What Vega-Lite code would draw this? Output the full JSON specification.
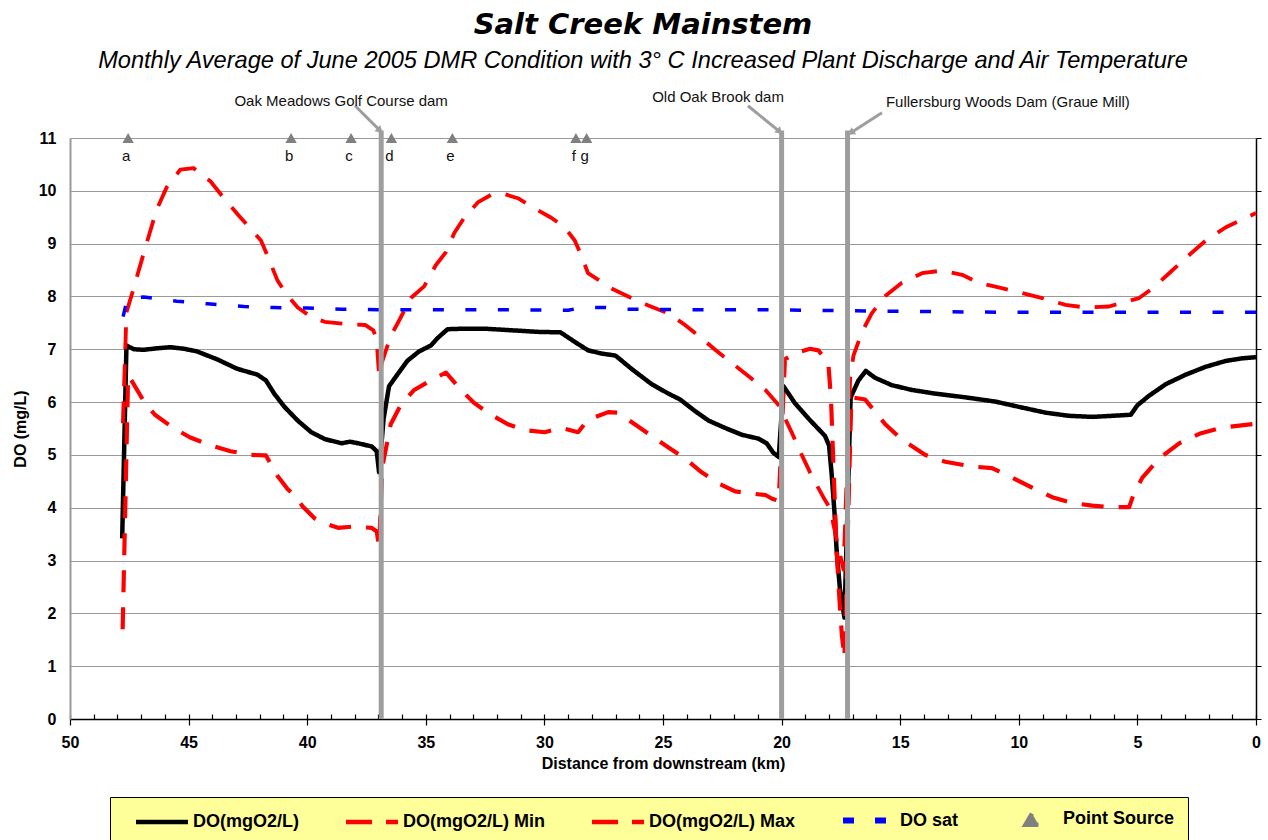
{
  "$schema": "https://vega.github.io/schema/vega-lite/v6.json",
  "width": 1186,
  "height": 581,
  "autosize": {"type": "none"},
  "padding": {"left": 70, "top": 138, "right": 12, "bottom": 121},
  "background": "white",
  "config": {"view": {"stroke": null}, "font": "Liberation Sans"},
  "title": {
    "text": "Salt Creek Mainstem",
    "subtitle": "Monthly Average of June 2005 DMR Condition with 3° C Increased Plant Discharge and Air Temperature",
    "anchor": "middle",
    "dx": -20,
    "font": "DejaVu Sans",
    "fontSize": 29,
    "fontStyle": "italic",
    "fontWeight": "bold",
    "color": "black",
    "subtitleFont": "Liberation Sans",
    "subtitleFontSize": 23.6,
    "subtitleFontStyle": "italic",
    "subtitleColor": "black",
    "subtitlePadding": 9,
    "offset": 17
  },
  "datasets": {
    "lines": [
      {"s":"DO(mgO2/L)","km":47.80,"v":3.42},{"s":"DO(mgO2/L)","km":47.62,"v":7.07},{"s":"DO(mgO2/L)","km":47.3,"v":7.00},{"s":"DO(mgO2/L)","km":46.9,"v":6.99},{"s":"DO(mgO2/L)","km":46.3,"v":7.02},{"s":"DO(mgO2/L)","km":45.78,"v":7.04},{"s":"DO(mgO2/L)","km":45.2,"v":7.01},{"s":"DO(mgO2/L)","km":44.65,"v":6.96},{"s":"DO(mgO2/L)","km":43.8,"v":6.81},{"s":"DO(mgO2/L)","km":42.95,"v":6.63},{"s":"DO(mgO2/L)","km":42.1,"v":6.52},{"s":"DO(mgO2/L)","km":41.74,"v":6.41},{"s":"DO(mgO2/L)","km":41.39,"v":6.16},{"s":"DO(mgO2/L)","km":40.96,"v":5.91},{"s":"DO(mgO2/L)","km":40.4,"v":5.65},{"s":"DO(mgO2/L)","km":39.83,"v":5.43},{"s":"DO(mgO2/L)","km":39.26,"v":5.30},{"s":"DO(mgO2/L)","km":38.55,"v":5.22},{"s":"DO(mgO2/L)","km":38.2,"v":5.25},{"s":"DO(mgO2/L)","km":37.85,"v":5.22},{"s":"DO(mgO2/L)","km":37.28,"v":5.16},{"s":"DO(mgO2/L)","km":37.07,"v":5.07},{"s":"DO(mgO2/L)","km":36.97,"v":4.67},{"s":"DO(mgO2/L)","km":36.78,"v":5.68},{"s":"DO(mgO2/L)","km":36.55,"v":6.30},{"s":"DO(mgO2/L)","km":36.2,"v":6.52},{"s":"DO(mgO2/L)","km":35.78,"v":6.78},{"s":"DO(mgO2/L)","km":35.28,"v":6.96},{"s":"DO(mgO2/L)","km":34.79,"v":7.07},{"s":"DO(mgO2/L)","km":34.51,"v":7.21},{"s":"DO(mgO2/L)","km":34.08,"v":7.38},{"s":"DO(mgO2/L)","km":33.38,"v":7.39},{"s":"DO(mgO2/L)","km":32.53,"v":7.39},{"s":"DO(mgO2/L)","km":31.4,"v":7.36},{"s":"DO(mgO2/L)","km":30.28,"v":7.33},{"s":"DO(mgO2/L)","km":29.32,"v":7.32},{"s":"DO(mgO2/L)","km":28.72,"v":7.14},{"s":"DO(mgO2/L)","km":28.16,"v":6.98},{"s":"DO(mgO2/L)","km":27.6,"v":6.92},{"s":"DO(mgO2/L)","km":27.0,"v":6.88},{"s":"DO(mgO2/L)","km":26.33,"v":6.63},{"s":"DO(mgO2/L)","km":25.48,"v":6.34},{"s":"DO(mgO2/L)","km":24.77,"v":6.16},{"s":"DO(mgO2/L)","km":24.28,"v":6.05},{"s":"DO(mgO2/L)","km":23.65,"v":5.83},{"s":"DO(mgO2/L)","km":23.08,"v":5.65},{"s":"DO(mgO2/L)","km":22.38,"v":5.51},{"s":"DO(mgO2/L)","km":21.67,"v":5.38},{"s":"DO(mgO2/L)","km":20.99,"v":5.31},{"s":"DO(mgO2/L)","km":20.63,"v":5.22},{"s":"DO(mgO2/L)","km":20.35,"v":5.04},{"s":"DO(mgO2/L)","km":20.12,"v":4.96},{"s":"DO(mgO2/L)","km":19.92,"v":6.30},{"s":"DO(mgO2/L)","km":19.44,"v":5.98},{"s":"DO(mgO2/L)","km":18.87,"v":5.69},{"s":"DO(mgO2/L)","km":18.17,"v":5.36},{"s":"DO(mgO2/L)","km":18.0,"v":5.18},{"s":"DO(mgO2/L)","km":17.89,"v":4.64},{"s":"DO(mgO2/L)","km":17.77,"v":3.91},{"s":"DO(mgO2/L)","km":17.68,"v":3.19},{"s":"DO(mgO2/L)","km":17.54,"v":2.46},{"s":"DO(mgO2/L)","km":17.35,"v":1.92},{"s":"DO(mgO2/L)","km":17.09,"v":6.09},{"s":"DO(mgO2/L)","km":16.76,"v":6.41},{"s":"DO(mgO2/L)","km":16.45,"v":6.59},{"s":"DO(mgO2/L)","km":16.06,"v":6.46},{"s":"DO(mgO2/L)","km":15.35,"v":6.32},{"s":"DO(mgO2/L)","km":14.51,"v":6.23},{"s":"DO(mgO2/L)","km":13.52,"v":6.16},{"s":"DO(mgO2/L)","km":12.25,"v":6.09},{"s":"DO(mgO2/L)","km":10.99,"v":6.01},{"s":"DO(mgO2/L)","km":10.0,"v":5.91},{"s":"DO(mgO2/L)","km":8.87,"v":5.80},{"s":"DO(mgO2/L)","km":7.89,"v":5.74},{"s":"DO(mgO2/L)","km":6.9,"v":5.72},{"s":"DO(mgO2/L)","km":6.06,"v":5.74},{"s":"DO(mgO2/L)","km":5.28,"v":5.76},{"s":"DO(mgO2/L)","km":5.0,"v":5.94},{"s":"DO(mgO2/L)","km":4.51,"v":6.12},{"s":"DO(mgO2/L)","km":3.8,"v":6.34},{"s":"DO(mgO2/L)","km":2.96,"v":6.52},{"s":"DO(mgO2/L)","km":2.11,"v":6.67},{"s":"DO(mgO2/L)","km":1.27,"v":6.78},{"s":"DO(mgO2/L)","km":0.56,"v":6.83},{"s":"DO(mgO2/L)","km":0,"v":6.85},

      {"s":"DO(mgO2/L) Min","km":47.78,"v":1.70},{"s":"DO(mgO2/L) Min","km":47.55,"v":6.50},{"s":"DO(mgO2/L) Min","km":47.41,"v":6.41},{"s":"DO(mgO2/L) Min","km":46.84,"v":5.98},{"s":"DO(mgO2/L) Min","km":46.42,"v":5.76},{"s":"DO(mgO2/L) Min","km":45.64,"v":5.51},{"s":"DO(mgO2/L) Min","km":44.93,"v":5.33},{"s":"DO(mgO2/L) Min","km":44.08,"v":5.18},{"s":"DO(mgO2/L) Min","km":43.23,"v":5.07},{"s":"DO(mgO2/L) Min","km":42.38,"v":5.00},{"s":"DO(mgO2/L) Min","km":41.74,"v":4.99},{"s":"DO(mgO2/L) Min","km":41.25,"v":4.60},{"s":"DO(mgO2/L) Min","km":40.82,"v":4.35},{"s":"DO(mgO2/L) Min","km":40.54,"v":4.24},{"s":"DO(mgO2/L) Min","km":40.18,"v":4.02},{"s":"DO(mgO2/L) Min","km":39.69,"v":3.80},{"s":"DO(mgO2/L) Min","km":39.26,"v":3.70},{"s":"DO(mgO2/L) Min","km":38.7,"v":3.62},{"s":"DO(mgO2/L) Min","km":38.13,"v":3.64},{"s":"DO(mgO2/L) Min","km":37.28,"v":3.62},{"s":"DO(mgO2/L) Min","km":37.07,"v":3.55},{"s":"DO(mgO2/L) Min","km":36.97,"v":3.26},{"s":"DO(mgO2/L) Min","km":36.83,"v":4.78},{"s":"DO(mgO2/L) Min","km":36.48,"v":5.58},{"s":"DO(mgO2/L) Min","km":36.06,"v":5.94},{"s":"DO(mgO2/L) Min","km":35.49,"v":6.23},{"s":"DO(mgO2/L) Min","km":34.79,"v":6.41},{"s":"DO(mgO2/L) Min","km":34.15,"v":6.56},{"s":"DO(mgO2/L) Min","km":33.52,"v":6.23},{"s":"DO(mgO2/L) Min","km":32.95,"v":5.98},{"s":"DO(mgO2/L) Min","km":32.25,"v":5.76},{"s":"DO(mgO2/L) Min","km":31.54,"v":5.58},{"s":"DO(mgO2/L) Min","km":30.84,"v":5.47},{"s":"DO(mgO2/L) Min","km":29.99,"v":5.43},{"s":"DO(mgO2/L) Min","km":29.29,"v":5.51},{"s":"DO(mgO2/L) Min","km":28.58,"v":5.43},{"s":"DO(mgO2/L) Min","km":28.3,"v":5.59},{"s":"DO(mgO2/L) Min","km":28.02,"v":5.69},{"s":"DO(mgO2/L) Min","km":27.31,"v":5.81},{"s":"DO(mgO2/L) Min","km":26.89,"v":5.80},{"s":"DO(mgO2/L) Min","km":26.19,"v":5.58},{"s":"DO(mgO2/L) Min","km":25.48,"v":5.36},{"s":"DO(mgO2/L) Min","km":24.77,"v":5.14},{"s":"DO(mgO2/L) Min","km":24.07,"v":4.93},{"s":"DO(mgO2/L) Min","km":23.37,"v":4.67},{"s":"DO(mgO2/L) Min","km":22.66,"v":4.46},{"s":"DO(mgO2/L) Min","km":21.96,"v":4.31},{"s":"DO(mgO2/L) Min","km":21.11,"v":4.26},{"s":"DO(mgO2/L) Min","km":20.68,"v":4.24},{"s":"DO(mgO2/L) Min","km":20.4,"v":4.17},{"s":"DO(mgO2/L) Min","km":20.12,"v":4.13},{"s":"DO(mgO2/L) Min","km":19.86,"v":6.81},{"s":"DO(mgO2/L) Min","km":19.44,"v":6.92},{"s":"DO(mgO2/L) Min","km":18.8,"v":7.01},{"s":"DO(mgO2/L) Min","km":18.45,"v":6.98},{"s":"DO(mgO2/L) Min","km":18.03,"v":6.74},{"s":"DO(mgO2/L) Min","km":17.92,"v":6.09},{"s":"DO(mgO2/L) Min","km":17.86,"v":5.36},{"s":"DO(mgO2/L) Min","km":17.77,"v":4.28},{"s":"DO(mgO2/L) Min","km":17.68,"v":3.19},{"s":"DO(mgO2/L) Min","km":17.56,"v":2.25},{"s":"DO(mgO2/L) Min","km":17.46,"v":1.59},{"s":"DO(mgO2/L) Min","km":17.35,"v":1.16},{"s":"DO(mgO2/L) Min","km":17.06,"v":6.09},{"s":"DO(mgO2/L) Min","km":16.48,"v":6.05},{"s":"DO(mgO2/L) Min","km":15.63,"v":5.58},{"s":"DO(mgO2/L) Min","km":14.93,"v":5.29},{"s":"DO(mgO2/L) Min","km":13.94,"v":5.00},{"s":"DO(mgO2/L) Min","km":13.1,"v":4.87},{"s":"DO(mgO2/L) Min","km":11.97,"v":4.78},{"s":"DO(mgO2/L) Min","km":11.13,"v":4.75},{"s":"DO(mgO2/L) Min","km":10.28,"v":4.57},{"s":"DO(mgO2/L) Min","km":9.44,"v":4.38},{"s":"DO(mgO2/L) Min","km":8.59,"v":4.20},{"s":"DO(mgO2/L) Min","km":7.75,"v":4.09},{"s":"DO(mgO2/L) Min","km":6.9,"v":4.04},{"s":"DO(mgO2/L) Min","km":6.06,"v":4.01},{"s":"DO(mgO2/L) Min","km":5.35,"v":4.01},{"s":"DO(mgO2/L) Min","km":5.14,"v":4.28},{"s":"DO(mgO2/L) Min","km":4.79,"v":4.57},{"s":"DO(mgO2/L) Min","km":4.08,"v":4.93},{"s":"DO(mgO2/L) Min","km":3.24,"v":5.22},{"s":"DO(mgO2/L) Min","km":2.39,"v":5.40},{"s":"DO(mgO2/L) Min","km":1.41,"v":5.52},{"s":"DO(mgO2/L) Min","km":0,"v":5.59},

      {"s":"DO(mgO2/L) Max","km":47.77,"v":5.60},{"s":"DO(mgO2/L) Max","km":47.62,"v":7.70},{"s":"DO(mgO2/L) Max","km":47.34,"v":8.12},{"s":"DO(mgO2/L) Max","km":46.84,"v":8.90},{"s":"DO(mgO2/L) Max","km":46.35,"v":9.64},{"s":"DO(mgO2/L) Max","km":45.92,"v":10.07},{"s":"DO(mgO2/L) Max","km":45.35,"v":10.40},{"s":"DO(mgO2/L) Max","km":44.79,"v":10.43},{"s":"DO(mgO2/L) Max","km":44.08,"v":10.18},{"s":"DO(mgO2/L) Max","km":43.51,"v":9.86},{"s":"DO(mgO2/L) Max","km":42.88,"v":9.53},{"s":"DO(mgO2/L) Max","km":41.95,"v":9.06},{"s":"DO(mgO2/L) Max","km":41.74,"v":8.84},{"s":"DO(mgO2/L) Max","km":41.25,"v":8.30},{"s":"DO(mgO2/L) Max","km":40.82,"v":8.01},{"s":"DO(mgO2/L) Max","km":40.4,"v":7.79},{"s":"DO(mgO2/L) Max","km":39.83,"v":7.61},{"s":"DO(mgO2/L) Max","km":39.26,"v":7.52},{"s":"DO(mgO2/L) Max","km":38.41,"v":7.48},{"s":"DO(mgO2/L) Max","km":37.56,"v":7.46},{"s":"DO(mgO2/L) Max","km":37.21,"v":7.36},{"s":"DO(mgO2/L) Max","km":37.07,"v":7.17},{"s":"DO(mgO2/L) Max","km":36.97,"v":6.50},{"s":"DO(mgO2/L) Max","km":36.85,"v":6.75},{"s":"DO(mgO2/L) Max","km":36.48,"v":7.25},{"s":"DO(mgO2/L) Max","km":36.13,"v":7.54},{"s":"DO(mgO2/L) Max","km":35.63,"v":7.97},{"s":"DO(mgO2/L) Max","km":35.07,"v":8.19},{"s":"DO(mgO2/L) Max","km":34.58,"v":8.59},{"s":"DO(mgO2/L) Max","km":34.15,"v":8.84},{"s":"DO(mgO2/L) Max","km":33.8,"v":9.20},{"s":"DO(mgO2/L) Max","km":33.38,"v":9.49},{"s":"DO(mgO2/L) Max","km":32.81,"v":9.78},{"s":"DO(mgO2/L) Max","km":32.18,"v":9.94},{"s":"DO(mgO2/L) Max","km":31.69,"v":9.94},{"s":"DO(mgO2/L) Max","km":31.12,"v":9.86},{"s":"DO(mgO2/L) Max","km":30.42,"v":9.67},{"s":"DO(mgO2/L) Max","km":29.71,"v":9.49},{"s":"DO(mgO2/L) Max","km":29.15,"v":9.31},{"s":"DO(mgO2/L) Max","km":28.72,"v":9.06},{"s":"DO(mgO2/L) Max","km":28.44,"v":8.77},{"s":"DO(mgO2/L) Max","km":28.16,"v":8.44},{"s":"DO(mgO2/L) Max","km":27.74,"v":8.32},{"s":"DO(mgO2/L) Max","km":27.17,"v":8.15},{"s":"DO(mgO2/L) Max","km":26.33,"v":7.97},{"s":"DO(mgO2/L) Max","km":25.62,"v":7.83},{"s":"DO(mgO2/L) Max","km":24.77,"v":7.68},{"s":"DO(mgO2/L) Max","km":24.07,"v":7.46},{"s":"DO(mgO2/L) Max","km":23.37,"v":7.21},{"s":"DO(mgO2/L) Max","km":22.8,"v":6.99},{"s":"DO(mgO2/L) Max","km":22.1,"v":6.74},{"s":"DO(mgO2/L) Max","km":21.39,"v":6.49},{"s":"DO(mgO2/L) Max","km":20.68,"v":6.23},{"s":"DO(mgO2/L) Max","km":20.12,"v":5.94},{"s":"DO(mgO2/L) Max","km":19.58,"v":5.43},{"s":"DO(mgO2/L) Max","km":19.15,"v":5.00},{"s":"DO(mgO2/L) Max","km":18.73,"v":4.60},{"s":"DO(mgO2/L) Max","km":18.24,"v":4.20},{"s":"DO(mgO2/L) Max","km":17.96,"v":3.99},{"s":"DO(mgO2/L) Max","km":17.68,"v":3.40},{"s":"DO(mgO2/L) Max","km":17.39,"v":2.83},{"s":"DO(mgO2/L) Max","km":17.11,"v":6.45},{"s":"DO(mgO2/L) Max","km":16.97,"v":6.88},{"s":"DO(mgO2/L) Max","km":16.62,"v":7.32},{"s":"DO(mgO2/L) Max","km":16.2,"v":7.68},{"s":"DO(mgO2/L) Max","km":15.63,"v":8.01},{"s":"DO(mgO2/L) Max","km":14.93,"v":8.26},{"s":"DO(mgO2/L) Max","km":14.08,"v":8.44},{"s":"DO(mgO2/L) Max","km":13.24,"v":8.49},{"s":"DO(mgO2/L) Max","km":12.39,"v":8.41},{"s":"DO(mgO2/L) Max","km":11.69,"v":8.26},{"s":"DO(mgO2/L) Max","km":10.85,"v":8.17},{"s":"DO(mgO2/L) Max","km":10.0,"v":8.08},{"s":"DO(mgO2/L) Max","km":9.01,"v":7.97},{"s":"DO(mgO2/L) Max","km":8.03,"v":7.84},{"s":"DO(mgO2/L) Max","km":7.18,"v":7.79},{"s":"DO(mgO2/L) Max","km":6.2,"v":7.81},{"s":"DO(mgO2/L) Max","km":5.49,"v":7.90},{"s":"DO(mgO2/L) Max","km":4.93,"v":7.97},{"s":"DO(mgO2/L) Max","km":4.37,"v":8.15},{"s":"DO(mgO2/L) Max","km":3.66,"v":8.44},{"s":"DO(mgO2/L) Max","km":2.96,"v":8.73},{"s":"DO(mgO2/L) Max","km":2.11,"v":9.06},{"s":"DO(mgO2/L) Max","km":1.27,"v":9.31},{"s":"DO(mgO2/L) Max","km":0.56,"v":9.46},{"s":"DO(mgO2/L) Max","km":0,"v":9.58},

      {"s":"DO sat","km":47.76,"v":7.62},{"s":"DO sat","km":47.58,"v":7.97},{"s":"DO sat","km":46.9,"v":7.99},{"s":"DO sat","km":45.5,"v":7.91},{"s":"DO sat","km":44.2,"v":7.86},{"s":"DO sat","km":42.66,"v":7.81},{"s":"DO sat","km":41.4,"v":7.79},{"s":"DO sat","km":39.97,"v":7.78},{"s":"DO sat","km":38.55,"v":7.76},{"s":"DO sat","km":37.0,"v":7.75},{"s":"DO sat","km":33.0,"v":7.75},{"s":"DO sat","km":29.0,"v":7.74},{"s":"DO sat","km":28.4,"v":7.79},{"s":"DO sat","km":27.4,"v":7.79},{"s":"DO sat","km":26.8,"v":7.76},{"s":"DO sat","km":24.0,"v":7.75},{"s":"DO sat","km":21.0,"v":7.75},{"s":"DO sat","km":17.5,"v":7.73},{"s":"DO sat","km":13.0,"v":7.71},{"s":"DO sat","km":10.0,"v":7.70},{"s":"DO sat","km":0,"v":7.70}
    ],
    "ps": [
      {"id":"a","km":47.55},{"id":"b","km":40.68},{"id":"c","km":38.15},{"id":"d","km":36.45},{"id":"e","km":33.88},{"id":"f","km":28.67},{"id":"g","km":28.22}
    ],
    "dams": [
      {"name":"Oak Meadows Golf Course dam","km":36.88,"lx":38.57,"ly":11.70,"ax":37.98,"ay":11.61,"bx":36.93,"by":11.14,"dir":"right"},
      {"name":"Old Oak Brook dam","km":20.0,"lx":22.68,"ly":11.78,"ax":21.42,"ay":11.61,"bx":20.08,"by":11.12,"dir":"right"},
      {"name":"Fullersburg Woods Dam (Graue Mill)","km":17.22,"lx":10.46,"ly":11.69,"ax":15.77,"ay":11.48,"bx":17.08,"by":11.1,"dir":"left"}
    ]
  },
  "layer": [
    {
      "data": {"name": "lines"},
      "mark": {"type": "line", "strokeCap": "butt", "strokeJoin": "round"},
      "encoding": {
        "x": {
          "field": "km", "type": "quantitative",
          "scale": {"domain": [0, 50], "reverse": true, "nice": false},
          "axis": {
            "values": [0,5,10,15,20,25,30,35,40,45,50],
            "tickSize": 6, "tickColor": "black", "tickWidth": 1.2,
            "domainColor": "black", "domainWidth": 1.5,
            "labelFont": "Liberation Sans", "labelFontSize": 16, "labelFontWeight": "bold", "labelColor": "black",
            "labelPadding": 9, "labelFlush": false, "labelOverlap": false,
            "title": "Distance from downstream (km)",
            "titleFont": "Liberation Sans", "titleFontSize": 16, "titleFontWeight": "bold", "titleColor": "black",
            "titlePadding": 5, "grid": false
          }
        },
        "y": {
          "field": "v", "type": "quantitative",
          "scale": {"domain": [0, 11], "nice": false},
          "axis": {
            "values": [0,1,2,3,4,5,6,7,8,9,10,11],
            "grid": true, "gridColor": "#999999", "gridWidth": 1.2,
            "ticks": false, "domainColor": "#999999", "domainWidth": 2,
            "labelFont": "Liberation Sans", "labelFontSize": 16, "labelFontWeight": "bold", "labelColor": "black",
            "labelPadding": 14,
            "title": "DO (mg/L)", "titleFont": "Liberation Sans", "titleFontSize": 16, "titleFontWeight": "bold", "titleColor": "black",
            "titlePadding": 10
          }
        },
        "color": {
          "field": "s", "type": "nominal",
          "scale": {
            "domain": ["DO(mgO2/L)", "DO(mgO2/L) Min", "DO(mgO2/L) Max", "DO sat", "Point Source"],
            "range": ["#000000", "#FF0000", "#FF0000", "#0000FF", "#808080"]
          },
          "legend": {
            "orient": "none", "legendX": 40, "legendY": 659,
            "direction": "horizontal", "title": null,
            "fillColor": "#FFFF99", "strokeColor": "#000000",
            "padding": 13,
            "symbolSize": 2700, "symbolStrokeWidth": 4.5, "symbolType": "stroke",
            "symbolOffset": 30,
            "labelFont": "Liberation Sans", "labelFontSize": 18, "labelFontWeight": "bold", "labelColor": "black",
            "labelOffset": 22, "columnPadding": 34,
            "encode": {
              "symbols": {
                "update": {
                  "shape": {"signal": "datum.value === 'Point Source' ? 'triangle-up' : 'stroke'"},
                  "size": {"signal": "datum.value === 'Point Source' ? 170 : 2700"},
                  "fill": {"signal": "datum.value === 'Point Source' ? '#808080' : 'transparent'"},
                  "stroke": {"signal": "datum.value === 'Point Source' ? 'transparent' : datum.value === 'DO(mgO2/L)' ? '#000000' : datum.value === 'DO sat' ? '#0000FF' : '#FF0000'"},
                  "strokeDash": {"signal": "datum.value === 'DO(mgO2/L)' ? [1, 0] : datum.value === 'DO sat' ? [11, 21] : [26, 14]"},
                  "strokeWidth": {"signal": "datum.value === 'DO sat' ? 6 : 4.5"},
                  "opacity": {"value": 1}
                }
              }
            }
          }
        },
        "strokeDash": {
          "field": "s", "type": "nominal",
          "scale": {
            "domain": ["DO(mgO2/L)", "DO(mgO2/L) Min", "DO(mgO2/L) Max", "DO sat"],
            "range": [[1, 0], [22, 15], [22, 15], [11, 21.5]]
          },
          "legend": null
        },
        "strokeWidth": {
          "field": "s", "type": "nominal",
          "scale": {
            "domain": ["DO(mgO2/L)", "DO(mgO2/L) Min", "DO(mgO2/L) Max", "DO sat"],
            "range": [4.5, 3.5, 3.5, 6.5]
          },
          "legend": null
        }
      }
    },
    {
      "data": {"name": "dams"},
      "mark": {"type": "rule", "color": "#9E9E9E", "strokeWidth": 5},
      "encoding": {
        "x": {
          "field": "km", "type": "quantitative",
          "axis": {
            "orient": "bottom", "offset": -5, "values": [0,1,2,3,4,5,6,7,8,9,10,11,12,13,14,15,16,17,18,19,20,21,22,23,24,25,26,27,28,29,30,31,32,33,34,35,36,37,38,39,40,41,42,43,44,45,46,47,48,49,50],
            "labels": false, "tickSize": 5, "tickWidth": 1.2, "tickColor": "black", "domain": false, "grid": false, "title": null
          }
        },
        "y": {
          "datum": 0,
          "axis": {
            "orient": "right", "values": [0,1,2,3,4,5,6,7,8,9,10,11],
            "labels": false, "ticks": true, "tickSize": 5, "tickColor": "black",
            "domainColor": "black", "domainWidth": 1.5, "grid": false, "title": null
          }
        },
        "y2": {"datum": 11.14}
      }
    },
    {
      "data": {"name": "dams"},
      "mark": {"type": "rule", "color": "#9E9E9E", "strokeWidth": 3},
      "encoding": {
        "x": {"field": "ax", "type": "quantitative", "axis": null},
        "y": {"field": "ay", "type": "quantitative", "axis": null},
        "x2": {"field": "bx"},
        "y2": {"field": "by"}
      }
    },
    {
      "data": {"name": "dams"},
      "transform": [{"filter": "datum.dir === 'right'"}],
      "mark": {"type": "point", "shape": "triangle-up", "filled": true, "color": "#9E9E9E", "size": 70, "angle": 133, "opacity": 1},
      "encoding": {
        "x": {"field": "bx", "type": "quantitative", "axis": null},
        "y": {"field": "by", "type": "quantitative", "axis": null}
      }
    },
    {
      "data": {"name": "dams"},
      "transform": [{"filter": "datum.dir === 'left'"}],
      "mark": {"type": "point", "shape": "triangle-up", "filled": true, "color": "#9E9E9E", "size": 70, "angle": 236, "opacity": 1},
      "encoding": {
        "x": {"field": "bx", "type": "quantitative", "axis": null},
        "y": {"field": "by", "type": "quantitative", "axis": null}
      }
    },
    {
      "data": {"name": "dams"},
      "mark": {"type": "text", "font": "Liberation Sans", "fontSize": 15, "color": "#111111", "align": "center", "baseline": "middle"},
      "encoding": {
        "x": {"field": "lx", "type": "quantitative", "axis": null},
        "y": {"field": "ly", "type": "quantitative", "axis": null},
        "text": {"field": "name"}
      }
    },
    {
      "data": {"name": "ps"},
      "mark": {"type": "point", "shape": "triangle-up", "filled": true, "color": "#808080", "size": 130, "opacity": 1},
      "encoding": {
        "x": {"field": "km", "type": "quantitative", "axis": null},
        "y": {"datum": 11, "axis": null}
      }
    },
    {
      "data": {"name": "ps"},
      "mark": {"type": "text", "font": "Liberation Sans", "fontSize": 15, "color": "#111111", "align": "center", "baseline": "middle", "dx": -2},
      "encoding": {
        "x": {"field": "km", "type": "quantitative", "axis": null},
        "y": {"datum": 10.65, "axis": null},
        "text": {"field": "id"}
      }
    }
  ],
  "resolve": {"axis": {"x": "independent", "y": "independent"}}
}
